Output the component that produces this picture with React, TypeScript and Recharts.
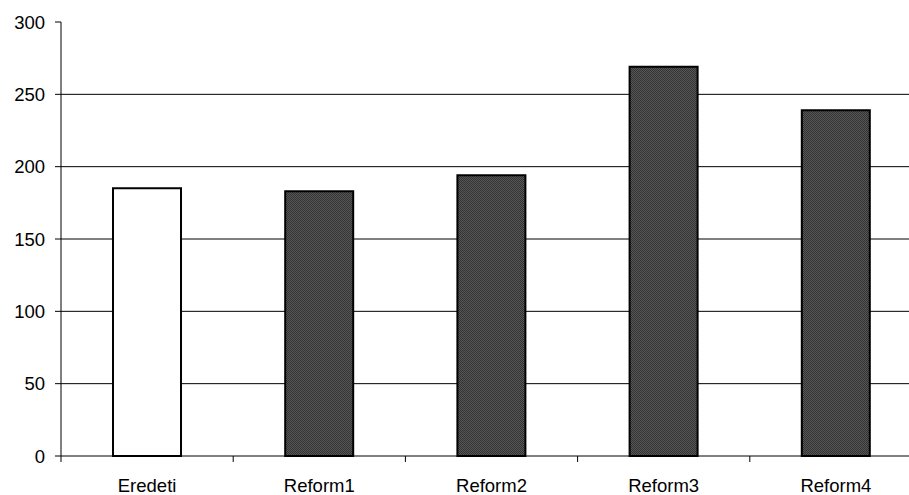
import { BarChart, Bar, XAxis, YAxis, CartesianGrid, Cell } from 'recharts';

const categories = ['Eredeti', 'Reform1', 'Reform2', 'Reform3', 'Reform4'];
const values = [185, 183, 194, 269, 239];
const yTicks = [0, 50, 100, 150, 200, 250, 300];

const CHART_W = 940;
const CHART_H = 495;
const MARGIN = { top: 22, right: 18, left: 0, bottom: 0 };
const Y_W = 61;
const BAND = (CHART_W - Y_W - MARGIN.right) / categories.length;

const data = categories.map((name, i) => ({ name, value: values[i] }));

const font = { fontFamily: '"Liberation Sans", Arial, sans-serif', fontSize: 18.5, fill: '#000' };

const XTick = (props: any) => {
  const { x, y, payload, index } = props;
  const axisY = y - 22;
  return (
    <g>
      {index === 0 && (
        <line x1={x - BAND / 2} x2={x - BAND / 2} y1={axisY} y2={axisY + 6} stroke="#000" />
      )}
      <line x1={x + BAND / 2} x2={x + BAND / 2} y1={axisY} y2={axisY + 6} stroke="#000" />
      <text x={x} y={y + 14} textAnchor="middle" style={font}>
        {payload.value}
      </text>
    </g>
  );
};

export default function App() {
  return (
    <div style={{ position: 'absolute', left: 0, top: 0, width: 909, height: 495, overflow: 'hidden', background: '#fff' }}>
      <BarChart width={CHART_W} height={CHART_H} data={data} margin={MARGIN} barCategoryGap={0}>
        <defs>
          <pattern id="dots" width="2" height="2" patternUnits="userSpaceOnUse">
            <rect width="2" height="2" fill="#575757" />
            <rect width="1" height="1" fill="#333" />
            <rect x="1" y="1" width="1" height="1" fill="#333" />
          </pattern>
        </defs>
        <CartesianGrid vertical={false} stroke="#000" horizontalValues={[50, 100, 150, 200, 250]} />
        <XAxis
          dataKey="name"
          height={39}
          axisLine={{ stroke: '#000' }}
          tickLine={false}
          tickSize={6}
          tickMargin={16}
          tick={<XTick />}
          interval={0}
        />
        <YAxis
          width={Y_W}
          domain={[0, 300]}
          ticks={yTicks}
          interval={0}
          axisLine={{ stroke: '#000' }}
          tickLine={{ stroke: '#000' }}
          tickSize={6}
          tickMargin={10}
          tick={font}
        />
        <Bar dataKey="value" barSize={68} stroke="#000" strokeWidth={2} isAnimationActive={false}>
          {data.map((d, i) => (
            <Cell key={d.name} fill={i === 0 ? '#fff' : 'url(#dots)'} />
          ))}
        </Bar>
      </BarChart>
    </div>
  );
}
